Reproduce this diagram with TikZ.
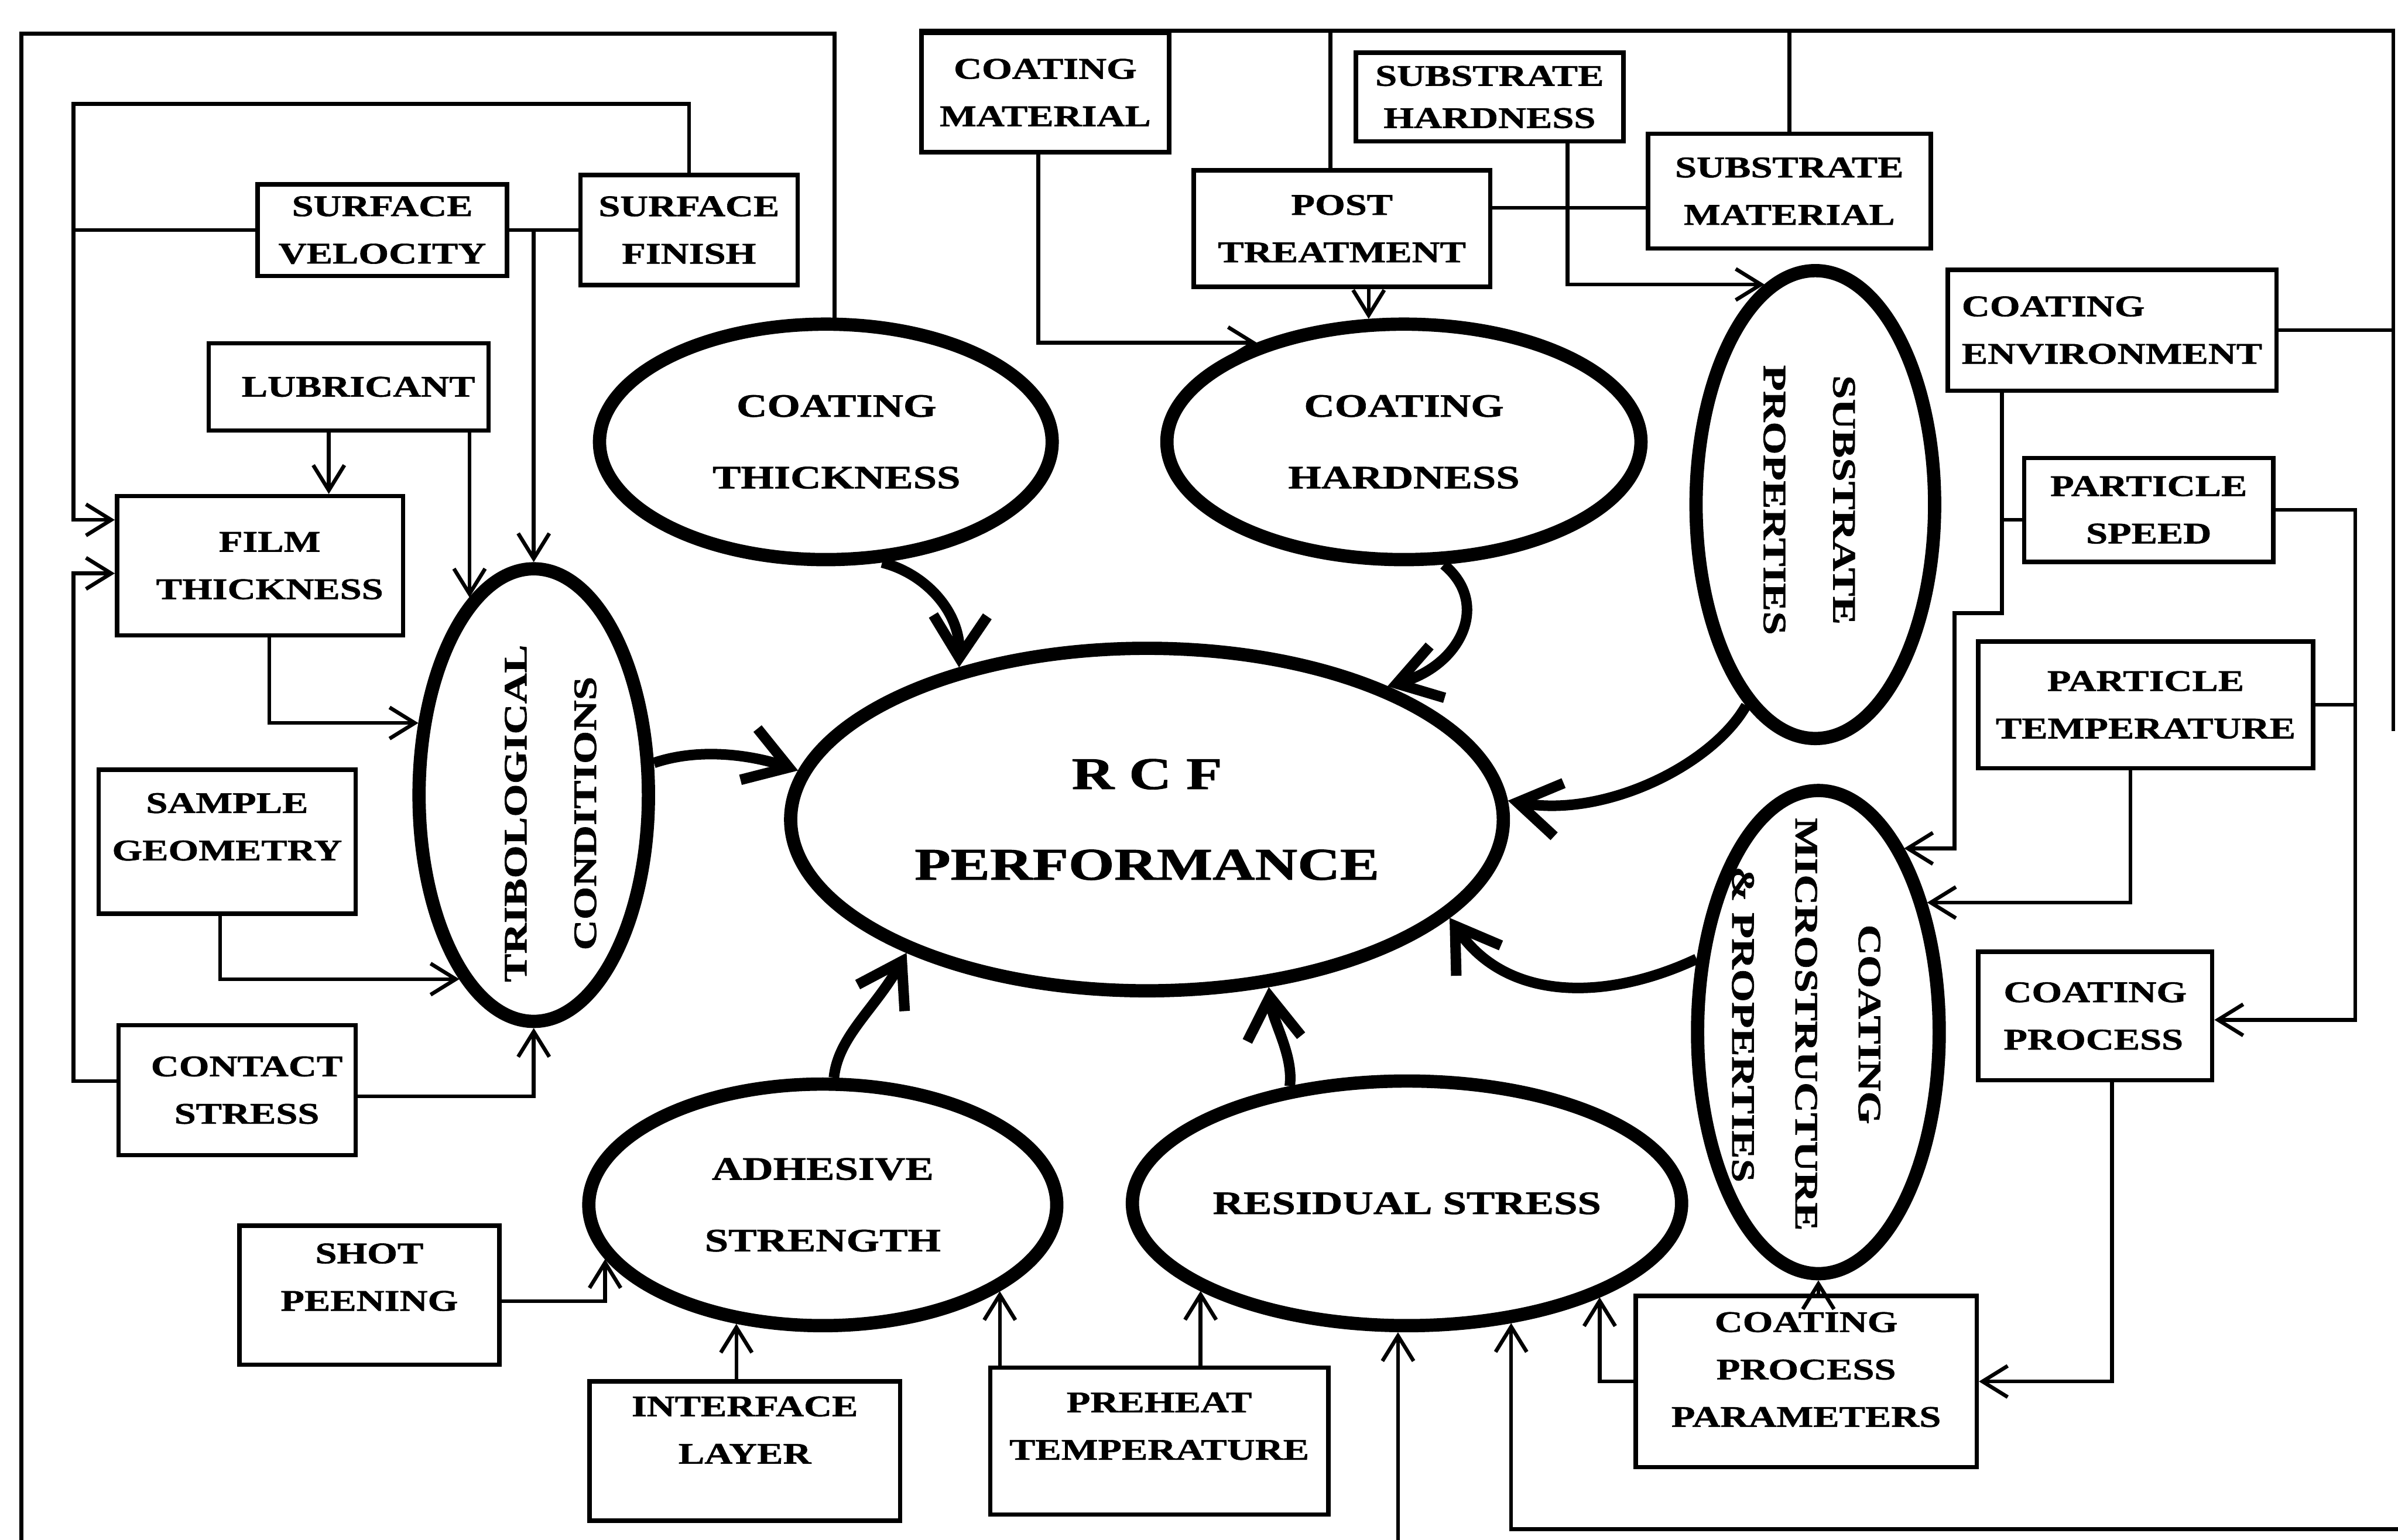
\documentclass[tikz,border=0pt]{standalone}
\usepackage{fontspec}
\setmainfont{Liberation Serif}[FakeStretch=1.3, BoldFeatures={FakeBold=1.2}]
\usetikzlibrary{shapes.geometric,arrows.meta}
\newcommand\uu{0.0255cm}
\tikzset{
  ln/.style={line width=1.8pt},
  arr/.style={ln, -{Straight Barb[length=4.2mm,width=5.2mm]}},
  thk/.style={line width=5pt, -{Straight Barb[length=7mm,width=9mm]}},
  bx/.style={draw, rectangle, line width=2.1pt, inner sep=0pt, align=center,
    font=\bfseries\fontsize{14.2}{22.5}\selectfont},
  el/.style={draw, ellipse, line width=6.3pt, inner sep=0pt, align=center,
    font=\bfseries\fontsize{15.5}{34}\selectfont},
  eltext/.style={inner sep=0pt, align=center, font=\bfseries\fontsize{15.5}{33}\selectfont},
}
\begin{document}
\begin{tikzpicture}[x=0.0255cm, y=-0.0255cm]
\fill[white] (0,0) rectangle (1568,1007);
\useasboundingbox (0,0) rectangle (1568,1007);

% ---------- boxes ----------
\node[bx, minimum width=163*\uu, minimum height=60*\uu] (svel) at (250,150.5) {SURFACE\\VELOCITY};
\node[bx, minimum width=142*\uu, minimum height=72*\uu] (sfin) at (450.5,150.5) {SURFACE\\FINISH};
\node[bx, minimum width=183*\uu, minimum height=57*\uu] (lub) at (228,253) {~~LUBRICANT};
\node[bx, minimum width=187*\uu, minimum height=91*\uu] (film) at (170,370) {~~FILM\\~~THICKNESS};
\node[bx, minimum width=168*\uu, minimum height=94*\uu, text depth=0.5cm] (samp) at (148.5,550.5) {SAMPLE\\GEOMETRY};
\node[bx, minimum width=155*\uu, minimum height=85*\uu] (cstr) at (155,713) {~~CONTACT\\~~STRESS};
\node[bx, minimum width=170*\uu, minimum height=91*\uu, text depth=0.6cm] (shot) at (241.5,847) {SHOT\\PEENING};
\node[bx, minimum width=203*\uu, minimum height=91*\uu, text depth=0.7cm] (iface) at (487,949) {INTERFACE\\LAYER};
\node[bx, minimum width=221*\uu, minimum height=96*\uu, text depth=0.5cm] (pre) at (758,942.5) {PREHEAT\\TEMPERATURE};
\node[bx, minimum width=162*\uu, minimum height=78*\uu] (cmat) at (683.5,60.5) {COATING\\MATERIAL};
\node[bx, minimum width=194*\uu, minimum height=76*\uu] (ptr) at (877.5,149.5) {POST\\TREATMENT};
\node[bx, minimum width=175*\uu, minimum height=58*\uu, font=\bfseries\fontsize{14.2}{20}\selectfont] (shard) at (974,63.5) {SUBSTRATE\\HARDNESS};
\node[bx, minimum width=185*\uu, minimum height=75*\uu] (smat) at (1170,125) {SUBSTRATE\\MATERIAL};
\node[bx, minimum width=215*\uu, minimum height=79*\uu, align=left] (cenv) at (1381,216) {COATING\\ENVIRONMENT};
\node[bx, minimum width=163*\uu, minimum height=68*\uu] (pspd) at (1405,333.5) {PARTICLE\\SPEED};
\node[bx, minimum width=219*\uu, minimum height=83*\uu] (ptmp) at (1403,461) {PARTICLE\\TEMPERATURE};
\node[bx, minimum width=153*\uu, minimum height=84*\uu, align=left] (cproc) at (1370,664.5) {COATING\\PROCESS};
\node[bx, minimum width=223*\uu, minimum height=112*\uu, text depth=0.4cm] (cpp) at (1181,903.5) {COATING\\PROCESS\\PARAMETERS};

% ---------- ellipses ----------
\node[el, minimum width=296*\uu, minimum height=154*\uu] (A) at (540,289) {~~COATING\\~~THICKNESS};
\node[el, minimum width=310*\uu, minimum height=154*\uu] (B) at (918,289) {COATING\\HARDNESS};
\node[el, minimum width=156*\uu, minimum height=306*\uu] (C) at (1187,330) {};
\node[eltext, rotate=-90] (Ct) at (1183,327) {SUBSTRATE\\PROPERTIES};
\node[el, minimum width=466*\uu, minimum height=224*\uu, font=\bfseries\fontsize{21.5}{43}\selectfont] (D) at (750,536) {R~C~F\\PERFORMANCE};
\node[el, minimum width=150*\uu, minimum height=296*\uu] (E) at (349,520) {};
\node[eltext, rotate=90] (Et) at (360,532) {TRIBOLOGICAL\\CONDITIONS};
\node[el, minimum width=158*\uu, minimum height=316*\uu] (F) at (1189,675) {};
\node[eltext, rotate=-90, font=\bfseries\fontsize{15.5}{30}\selectfont] (Ft) at (1181,670) {COATING\\MICROSTRUCTURE\\\&~PROPERTIES};
\node[el, minimum width=306*\uu, minimum height=158*\uu] (G) at (538,788) {ADHESIVE\\STRENGTH};
\node[el, minimum width=316*\uu, minimum height=160*\uu] (H) at (920,787) {RESIDUAL STRESS};

% ---------- frame ends ----------
\coordinate (lf) at (14,1012);
\coordinate (bm) at (914,1012);
\coordinate (br) at (1572,1000);
\coordinate (rf) at (1565,478);

% ---------- thin connectors, left ----------
\draw[ln] (lf) -- (14,22) -| (A.86);
\draw[arr] (sfin.north) |- (48,68) |- (film.west |- 0,340);
\draw[ln] (svel.west) -- (svel.west -| 48,0);
\draw[arr] (cstr.west |- 0,707) -| (48,375) -- (film.west |- 0,375);
\draw[ln] (svel.east) -- (sfin.west |- svel.east);
\draw[arr] (E.north |- svel.east) -- (E.north);
\draw[arr] (lub.south -| 215,0) -- (film.north -| 215,0);
\draw[arr] (lub.south -| E.108) -- (E.108);
\draw[arr] (film.south -| 176,0) |- (E.148);
\draw[arr] (samp.south -| 144,0) |- (E.248);
\draw[arr] (cstr.east |- 0,717) -| (E.south);
\draw[arr] (shot.east |- 0,851) -| (G.194);
\draw[arr] (iface.north -| G.234) -- (G.234);
\draw[arr] (pre.north -| G.334) -- (G.334);
\draw[arr] (pre.north -| H.203) -- (H.203);
\draw[arr] (H.266 |- bm) -- (H.266);
\draw[arr] (br) -| (H.311);
\draw[arr] (cpp.west) -| (H.334);
\draw[arr] (cpp.north -| F.south) -- (F.south);

% ---------- thin connectors, right ----------
\draw[arr] (cproc.south -| 1381,0) |- (cpp.east);
\draw[arr] (pspd.east) -| (1540,667) -- (cproc.east |- 0,667);
\draw[ln] (ptmp.east) -- (ptmp.east -| 1540,0);
\draw[arr] (cenv.south -| 1309,0) |- (1278,401) |- (F.65);
\draw[ln] (pspd.west |- 0,340) -- (1309,340);
\draw[arr] (ptmp.south -| 1393,0) |- (F.50);
\draw[ln] (cenv.east) -- (cenv.east -| rf);
\draw[ln] (cmat.north west) -| (rf);
\draw[ln] (ptr.north -| 870,0) -- (cmat.north -| 870,0);
\draw[ln] (smat.north) -- (smat.north |- cmat.north);
\draw[ln] (ptr.east |- 0,136) -- (smat.west |- 0,136);
\draw[arr] (shard.south -| 1025,0) |- (C.103);
\draw[arr] (cmat.south -| 679,0) |- (B.146);
\draw[arr] (ptr.south -| B.106) -- (B.106);

% ---------- thick arrows into RCF ----------
\draw[thk] (A.295) .. controls (605,375) and (628,400) .. (D.141);
\draw[thk] (B.288) .. controls (975,395) and (955,435) .. (D.29);
\draw[thk] (C.251) .. controls (1120,500) and (1050,535) .. (D.3);
\draw[thk] (E.15) .. controls (460,488) and (495,495) .. (D.172);
\draw[thk] (F.149) .. controls (1050,655) and (985,655) .. (D.342);
\draw[thk] (G.85) .. controls (548,678) and (572,660) .. (D.209);
\draw[thk] (H.135) .. controls (846,690) and (832,668) .. (D.306);
\end{tikzpicture}
\end{document}
